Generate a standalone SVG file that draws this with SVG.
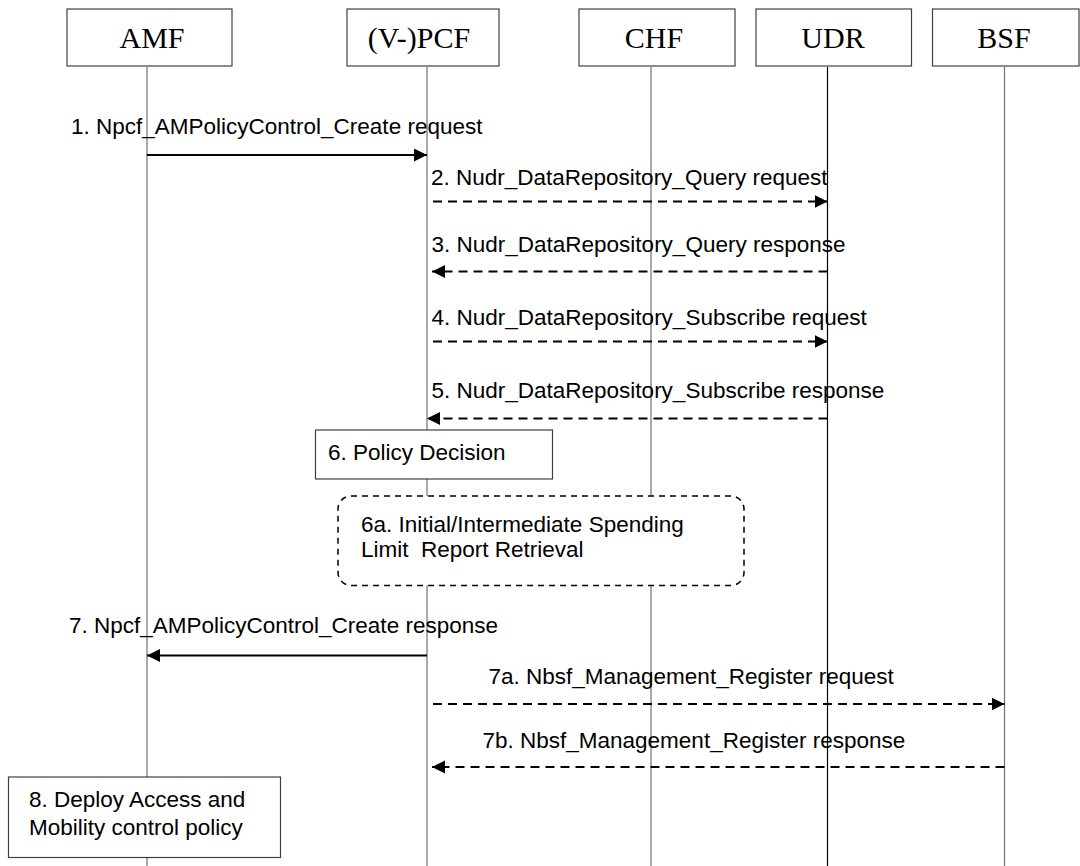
<svg xmlns="http://www.w3.org/2000/svg" width="1080" height="866" viewBox="0 0 1080 866">
<style>
.hdr{fill:#fff;stroke:#404040;stroke-width:1.2}
.htxt{font-family:"Liberation Serif","Times New Roman",serif;font-size:30px;fill:#000;text-anchor:middle}
.life{stroke:#707070;stroke-width:1.2}
.lifeb{stroke:#000;stroke-width:1.2}
.lbl{font-family:"Liberation Sans",Arial,sans-serif;font-size:22.5px;fill:#000;white-space:pre}
.solid{stroke:#000;stroke-width:2;fill:none}
.dash{stroke:#000;stroke-width:2;fill:none;stroke-dasharray:9,6}
.box{fill:#fff;stroke:#404040;stroke-width:1.2}
.rbox{fill:#fff;stroke:#000;stroke-width:1.5;stroke-dasharray:6,5}
</style>
<defs>
<marker id="ah" markerUnits="userSpaceOnUse" markerWidth="14" markerHeight="14" refX="13" refY="6.5" orient="auto">
<path d="M0,0 L13,6.5 L0,13 z" fill="#000" stroke="none"/>
</marker>
</defs>
<rect width="1080" height="866" fill="#fff"/>
<g id="lifelines">
<line class="life" x1="147" y1="67" x2="147" y2="866"/>
<line class="life" x1="427" y1="67" x2="427" y2="866"/>
<line class="life" x1="651" y1="67" x2="651" y2="866"/>
<line class="lifeb" x1="827.5" y1="67" x2="827.5" y2="866"/>
<line class="life" x1="1004.5" y1="67" x2="1004.5" y2="866"/>
</g>
<g id="AMF"><rect class="hdr" x="67" y="9" width="165" height="57"/><text class="htxt" x="152" y="48">AMF</text></g>
<g id="PCF"><rect class="hdr" x="347" y="9" width="152" height="57"/><text class="htxt" x="419" y="48">(V-)PCF</text></g>
<g id="CHF"><rect class="hdr" x="579" y="9" width="156" height="57"/><text class="htxt" x="654" y="48">CHF</text></g>
<g id="UDR"><rect class="hdr" x="756" y="9" width="155.5" height="57"/><text class="htxt" x="833" y="48">UDR</text></g>
<g id="BSF"><rect class="hdr" x="932.5" y="9" width="146.5" height="57"/><text class="htxt" x="1004" y="48">BSF</text></g>
<g id="connectors">
<line class="solid" x1="147" y1="155" x2="427" y2="155" marker-end="url(#ah)"/>
<text class="lbl" x="71" y="133.5">1. Npcf_AMPolicyControl_Create request</text>
<line class="dash" x1="433" y1="201.5" x2="827.5" y2="201.5" marker-end="url(#ah)"/>
<text class="lbl" x="431" y="185">2. Nudr_DataRepository_Query request</text>
<line class="dash" x1="827.5" y1="271.5" x2="432" y2="271.5" marker-end="url(#ah)"/>
<text class="lbl" x="431.5" y="251.5">3. Nudr_DataRepository_Query response</text>
<line class="dash" x1="433" y1="341.5" x2="827.5" y2="341.5" marker-end="url(#ah)"/>
<text class="lbl" x="431.5" y="325">4. Nudr_DataRepository_Subscribe request</text>
<line class="dash" x1="827.5" y1="418.5" x2="427" y2="418.5" marker-end="url(#ah)"/>
<text class="lbl" x="431.5" y="398">5. Nudr_DataRepository_Subscribe response</text>
<line class="solid" x1="427" y1="655.5" x2="147" y2="655.5" marker-end="url(#ah)"/>
<text class="lbl" x="69" y="633">7. Npcf_AMPolicyControl_Create response</text>
<line class="dash" x1="433" y1="704" x2="1004.5" y2="704" marker-end="url(#ah)"/>
<text class="lbl" x="488.5" y="683.5">7a. Nbsf_Management_Register request</text>
<line class="dash" x1="1004.5" y1="767" x2="432" y2="767" marker-end="url(#ah)"/>
<text class="lbl" x="482.5" y="747.5">7b. Nbsf_Management_Register response</text>
</g>
<g id="step6"><rect class="box" x="315.5" y="430" width="237" height="49"/><text class="lbl" x="328" y="460">6. Policy Decision</text></g>
<g id="step6a"><rect class="rbox" x="338" y="496" width="406" height="89.5" rx="13" ry="13"/><text class="lbl" x="361" y="531.5">6a. Initial/Intermediate Spending</text><text class="lbl" x="361" y="557">Limit  Report Retrieval</text></g>
<g id="step8"><rect class="box" x="8.5" y="777" width="272" height="80.5"/><text class="lbl" x="29" y="806.5">8. Deploy Access and</text><text class="lbl" x="29" y="834.5">Mobility control policy</text></g>
</svg>
